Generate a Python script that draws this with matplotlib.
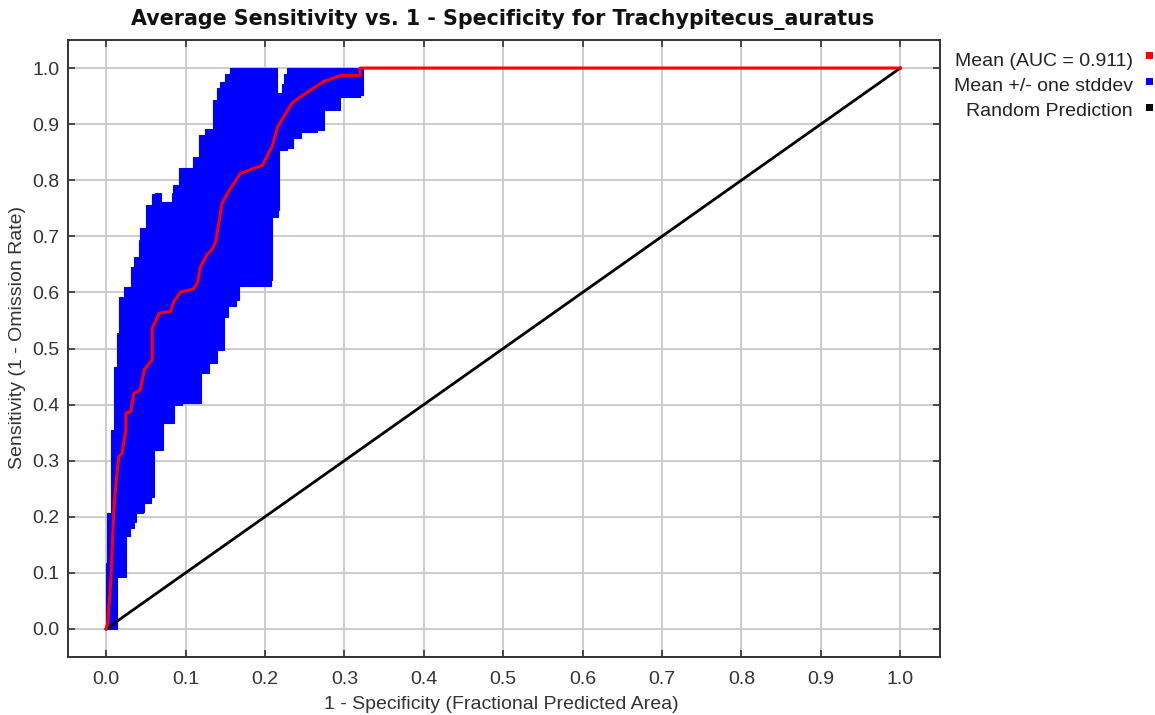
import matplotlib
matplotlib.use("Agg")
import matplotlib.pyplot as plt
from matplotlib.patches import Rectangle

# ---- data ----
mean_fpr = [0.000, 0.002, 0.006, 0.0095, 0.012, 0.016, 0.020, 0.025, 0.025, 0.031, 0.035,
            0.043, 0.048, 0.058, 0.058, 0.067, 0.081, 0.085, 0.094, 0.110, 0.115, 0.119,
            0.127, 0.133, 0.138, 0.146, 0.153, 0.169, 0.197, 0.209, 0.216, 0.226, 0.234,
            0.245, 0.274, 0.296, 0.320, 0.320, 1.000]
mean_tpr = [0.000, 0.010, 0.087, 0.206, 0.254, 0.307, 0.313, 0.355, 0.385, 0.387, 0.420,
            0.426, 0.462, 0.480, 0.536, 0.563, 0.566, 0.583, 0.601, 0.606, 0.617, 0.646,
            0.667, 0.676, 0.690, 0.759, 0.777, 0.812, 0.827, 0.860, 0.895, 0.919, 0.937,
            0.949, 0.976, 0.987, 0.987, 1.000, 1.000]

upper_fpr = [0.000, 0.0015, 0.006, 0.0095, 0.010, 0.014, 0.016, 0.022, 0.031, 0.035, 0.041,
             0.043, 0.050, 0.058, 0.062, 0.069, 0.071, 0.083, 0.084, 0.092, 0.109, 0.117,
             0.125, 0.134, 0.140, 0.144, 0.150, 0.156, 0.161, 0.215, 0.216, 0.221, 0.224,
             0.228, 0.232, 1.000]
upper_tpr = [0.000, 0.117, 0.206, 0.355, 0.444, 0.467, 0.527, 0.592, 0.610, 0.646, 0.664,
             0.693, 0.714, 0.756, 0.776, 0.777, 0.762, 0.762, 0.777, 0.791, 0.821, 0.842,
             0.880, 0.892, 0.943, 0.964, 0.976, 0.990, 1.000, 1.000, 0.955, 0.955, 0.972,
             0.990, 1.000, 1.000]

lower_fpr = [0.000, 0.011, 0.014, 0.014, 0.025, 0.025, 0.030, 0.035, 0.037, 0.046, 0.048,
             0.056, 0.060, 0.060, 0.071, 0.071, 0.085, 0.085, 0.096, 0.119, 0.119, 0.130,
             0.140, 0.148, 0.153, 0.163, 0.167, 0.167, 0.199, 0.207, 0.209, 0.209, 0.216,
             0.218, 0.228, 0.235, 0.245, 0.266, 0.274, 0.295, 0.320, 0.323, 1.000]
lower_tpr = [0.000, 0.000, 0.010, 0.093, 0.093, 0.165, 0.180, 0.190, 0.206, 0.209, 0.224,
             0.236, 0.254, 0.319, 0.325, 0.367, 0.367, 0.399, 0.402, 0.405, 0.456, 0.474,
             0.497, 0.557, 0.575, 0.586, 0.604, 0.612, 0.612, 0.622, 0.628, 0.735, 0.747,
             0.854, 0.857, 0.875, 0.886, 0.889, 0.925, 0.949, 0.952, 1.000, 1.000]

random_x = [0.0, 1.0]
random_y = [0.0, 1.0]

ticks = [0.0, 0.1, 0.2, 0.3, 0.4, 0.5, 0.6, 0.7, 0.8, 0.9, 1.0]
tick_labels = ["0.0", "0.1", "0.2", "0.3", "0.4", "0.5", "0.6", "0.7", "0.8", "0.9", "1.0"]

legend_labels = ["Mean (AUC = 0.911)", "Mean +/- one stddev", "Random Prediction"]
legend_colors = ["#ff0000", "#0000ff", "#000000"]

title = "Average Sensitivity vs. 1 - Specificity for Trachypitecus_auratus"
xlabel = "1 - Specificity (Fractional Predicted Area)"
ylabel = "Sensitivity (1 - Omission Rate)"


def staircase(xs, ys, vertical_first):
    """Turn an edge polyline into horizontal/vertical steps."""
    vx, vy = [xs[0]], [ys[0]]
    for i in range(1, len(xs)):
        if vertical_first:
            vx.append(xs[i - 1]); vy.append(ys[i])
        else:
            vx.append(xs[i]); vy.append(ys[i - 1])
        vx.append(xs[i]); vy.append(ys[i])
    return vx, vy


# ---- figure ----
W, H = 1155, 715
fig = plt.figure(figsize=(W / 100, H / 100), dpi=100)
ax = fig.add_axes([68 / W, 1 - 657 / H, (940 - 68) / W, (657 - 40) / H])

ux, uy = staircase(upper_fpr, upper_tpr, True)
lx, ly = staircase(lower_fpr, lower_tpr, False)
band_x = ux + lx[::-1]
band_y = uy + ly[::-1]
ax.fill(band_x, band_y, facecolor="#0000ff", edgecolor="#0000ff", linewidth=0.8, zorder=2)
ax.plot(random_x, random_y, color="#000000", linewidth=2.0, zorder=3)
ax.plot(mean_fpr, mean_tpr, color="#ff0000", linewidth=2.2, zorder=4)

ax.set_xlim(-0.048, 1.050)
ax.set_ylim(-0.050, 1.050)
ax.set_xticks(ticks)
ax.set_xticklabels(tick_labels)
ax.set_yticks(ticks)
ax.set_yticklabels(tick_labels)
ax.grid(True, color="#c8c8c8", linewidth=1.3, zorder=0)
ax.set_axisbelow(True)

for s in ax.spines.values():
    s.set_color("#333333")
    s.set_linewidth(1.4)

ax.tick_params(axis="both", direction="in", length=5, width=1.2, color="#333333",
               top=True, right=True, labelsize=14, labelcolor="#333333")
ax.tick_params(axis="x", pad=10)
ax.tick_params(axis="y", pad=6)
for lab in ax.get_xticklabels() + ax.get_yticklabels():
    lab.set_family("Liberation Sans")

fig.text(503 / W, 1 - 20 / H, title, ha="center", va="center", fontsize=14.9,
         fontweight="bold", family="DejaVu Sans", color="#111111")
fig.text(501 / W, 1 - 709 / H, xlabel, ha="center", va="baseline", fontsize=14,
         family="Liberation Sans", color="#333333")
fig.text(18 / W, 1 - 338 / H, ylabel, ha="center", va="center", rotation=90,
         fontsize=14, family="Liberation Sans", color="#333333")

# legend (outside, right)
baselines = [66.5, 91, 116]
square_tops = [51.7, 77.7, 104]
for lab, col, yb, yt in zip(legend_labels, legend_colors, baselines, square_tops):
    fig.text(1133 / W, 1 - yb / H, lab, ha="right", va="baseline", fontsize=14,
             family="Liberation Sans", color="#222222")
    fig.patches.append(Rectangle((1146 / W, 1 - (yt + 7) / H), 7 / W, 7 / H,
                                 transform=fig.transFigure, facecolor=col,
                                 edgecolor="none"))

fig.savefig("out.png", dpi=100)
